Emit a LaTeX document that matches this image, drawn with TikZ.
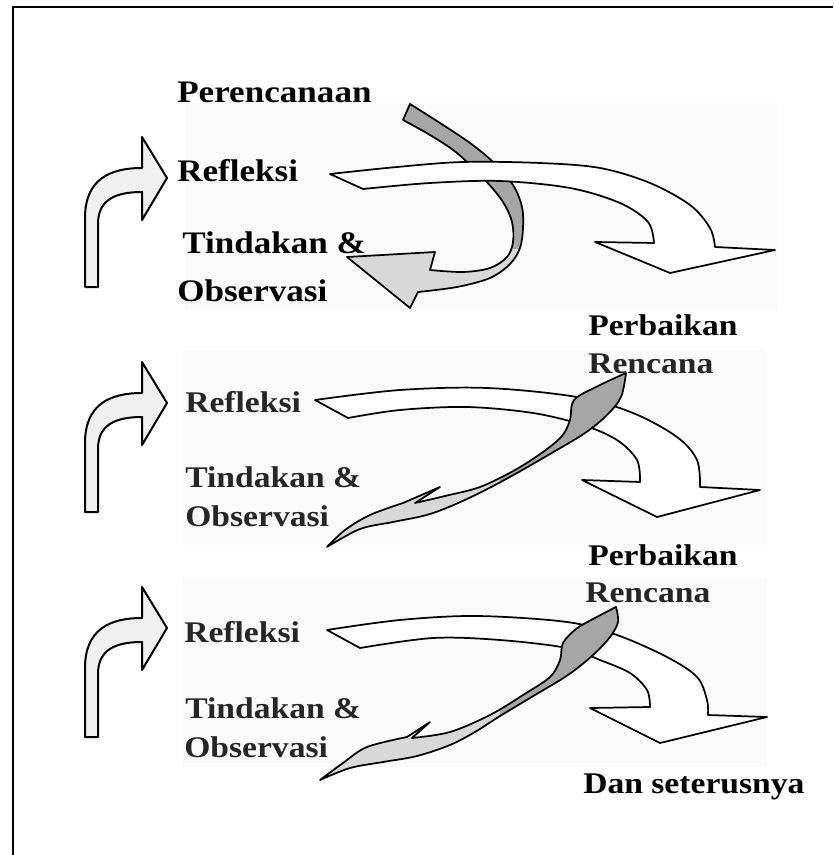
\documentclass[tikz,border=0pt]{standalone}
\usepackage{fontspec}
\setmainfont{Liberation Serif}
\newfontfamily\lblfont{Liberation Serif}[FakeStretch=1.12]
\definecolor{panel}{HTML}{FAFAFA}
\definecolor{ribdark}{HTML}{A6A6A6}
\definecolor{riblight}{HTML}{D8D8D8}
\definecolor{bentfill}{HTML}{F0F0F0}
\definecolor{txtgray}{HTML}{262626}
\begin{document}
\begin{tikzpicture}[x=0.75pt,y=-0.75pt,
  lbl/.style={anchor=base west, inner sep=0pt, font=\lblfont\bfseries\fontsize{22.5}{24}\selectfont},
  lblbig/.style={anchor=base west, inner sep=0pt, font=\lblfont\bfseries\fontsize{23.5}{25}\selectfont},
  gtxt/.style={text=txtgray},
  outl/.style={draw=black, line width=1.3pt, line join=round},
  bent/.style={outl, line width=1.5pt, fill=bentfill},
  whitearrow/.style={outl, fill=white},
  smooth6/.style={smooth, tension=0.55}]
\useasboundingbox (0,0) rectangle (833,855);
% faint panels
\fill[panel] (185,103) rectangle (777,310);
\fill[panel] (183,350) rectangle (765,545);
\fill[panel] (183,578) rectangle (767,767);
% frame lines
\draw[line width=2.2pt] (13,855) -- (13,7) -- (833,7);

% bent arrows on the left
\foreach \ty in {178,403,628}{
\begin{scope}[shift={(167,\ty)}]
\draw[bent] (-82,109) -- (-82,40) .. controls (-82,2) and (-58,-10) .. (-25,-10)
  -- (-25,-41) -- (0,0) -- (-25,42) -- (-25,14)
  .. controls (-52,14) and (-69,22) .. (-69,46) -- (-69,109) -- cycle;
\end{scope}}

% ---------- section 1 ----------
\def\ribA{plot[smooth6] coordinates {(410,104) (440,123) (470,143) (493,162) (513,185) (522,207) (523,228) (520,248) (510,264) (490,278) (457,287) (418,292)}
  -- (410,308) -- (347,257) -- (435,252) -- (430,270)
  -- plot[smooth6] coordinates {(430,270) (463,272) (490,268) (507,257) (513,242) (512,222) (503,202) (485,180) (457,153) (430,135) (403,120)} -- cycle}
\fill[riblight] \ribA;
\begin{scope}
\clip (390,95) rectangle (540,249);
\fill[ribdark] \ribA;
\end{scope}
\draw[outl] \ribA;
\draw[whitearrow] (330,174) -- plot[smooth6] coordinates {(330,174) (397,167) (463,162) (540,163) (600,168) (650,183) (690,205) (710,228) (715,247)}
  -- (775,250) -- (670,273) -- (595,242) -- (654,243)
  -- plot[smooth6] coordinates {(654,243) (648,222) (620,203) (570,188) (500,181) (430,183) (363,189)} -- cycle;

% ---------- section 2 ----------
\draw[whitearrow] (315,400) -- plot[smooth6] coordinates {(315,400) (400,390) (487,388) (577,397) (633,413) (677,437) (697,460) (700,487)}
  -- (760,490) -- (657,517) -- (582,480) -- (640,482)
  -- plot[smooth6] coordinates {(640,482) (637,460) (617,440) (583,425) (533,413) (467,407) (400,410) (348,418)} -- cycle;
\def\ribB{plot[smooth6] coordinates {(626,373) (621,397) (607,415) (585,433) (550,454) (508,478) (467,499) (430,514) (393,522) (360,529) (327,547)}
  -- plot[smooth6] coordinates {(327,547) (345,530) (370,515) (403,503)}
  -- (440,487) -- (415,503)
  -- plot[smooth6] coordinates {(415,503) (445,496) (480,487) (515,470) (543,452) (562,436) (570,420) (574,400) (598,386) (626,373)} -- cycle}
\fill[riblight] \ribB;
\begin{scope}
\clip (500,360) rectangle (640,500);
\fill[ribdark] \ribB;
\end{scope}
\draw[outl] \ribB;

% ---------- section 3 ----------
\draw[whitearrow] (327,630) -- plot[smooth6] coordinates {(327,630) (400,620) (477,616) (567,622) (617,635) (667,657) (697,677) (707,700) (708,715)}
  -- (767,717) -- (660,743) -- (590,708) -- (650,707)
  -- plot[smooth6] coordinates {(650,707) (647,690) (630,673) (600,660) (567,648) (500,640) (433,638) (360,648)} -- cycle;
\def\ribC{plot[smooth6] coordinates {(616,607) (618,622) (610,637) (593,655) (568,675) (535,695) (500,716) (475,732) (450,745) (417,756) (383,762) (350,768) (320,780)}
  -- plot[smooth6] coordinates {(320,780) (343,763) (367,747) (407,737)}
  -- (430,722) -- (412,738)
  -- plot[smooth6] coordinates {(412,738) (450,732) (490,715) (523,695) (550,677) (560,660) (563,643) (576,629) (593,619) (616,607)} -- cycle}
\fill[riblight] \ribC;
\begin{scope}
\clip (500,595) rectangle (630,730);
\fill[ribdark] \ribC;
\end{scope}
\draw[outl] \ribC;

% ---------- labels ----------
\node[lblbig] (per) at (177,103) {Perencanaan};
\node[lblbig] (ref1) at (177,182) {Refleksi};
\node[lblbig] (tin1) at (182,253) {Tindakan \&};
\node[lblbig] (obs1) at (177,301) {Observasi};
\node[lbl] (perb1) at (588,335) {Perbaikan};
\node[lbl,gtxt] (ren1) at (588,373) {Rencana};
\node[lbl,gtxt] (ref2) at (185,412) {Refleksi};
\node[lbl,gtxt] (tin2) at (185,487) {Tindakan \&};
\node[lbl,gtxt] (obs2) at (185,526) {Observasi};
\node[lbl] (perb2) at (588,565) {Perbaikan};
\node[lbl,gtxt] (ren2) at (585,602) {Rencana};
\node[lbl,gtxt] (ref3) at (184,642) {Refleksi};
\node[lbl,gtxt] (tin3) at (185,718) {Tindakan \&};
\node[lbl,gtxt] (obs3) at (184,757) {Observasi};
\node[lbl] (dan) at (583,793) {Dan seterusnya};
\end{tikzpicture}
\end{document}
